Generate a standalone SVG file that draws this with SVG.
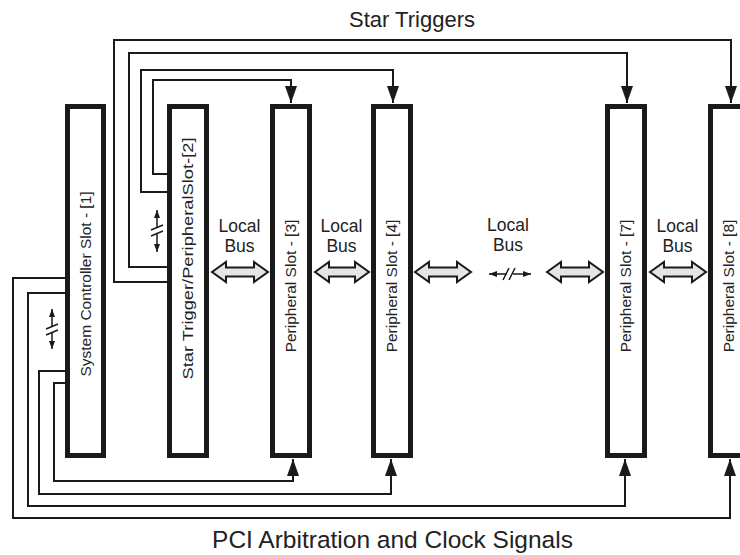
<svg xmlns="http://www.w3.org/2000/svg" width="740" height="555" viewBox="0 0 740 555">
<style>
.slot{fill:#fff;stroke:#1a1a1a;stroke-width:5}
.st{font-family:"Liberation Sans",Arial,sans-serif;font-size:15.5px;fill:#222;text-anchor:middle}
.lb{font-family:"Liberation Sans",Arial,sans-serif;font-size:17.5px;fill:#222;text-anchor:middle}
.ttl{font-family:"Liberation Sans",Arial,sans-serif;font-size:22px;fill:#222;text-anchor:middle}
.w{fill:none;stroke:#1a1a1a;stroke-width:2}
.ba{fill:#e4e6e4;stroke:#1a1a1a;stroke-width:2;stroke-linejoin:miter}
.bk{fill:none;stroke:#1a1a1a;stroke-width:1.5}
</style>
<defs>
<marker id="arr" viewBox="0 0 17 12" refX="17" refY="6" markerWidth="17" markerHeight="12" markerUnits="userSpaceOnUse" orient="auto">
<path d="M0,0 L17,6 L0,12 Z" fill="#1a1a1a"/>
</marker>
<marker id="sa" viewBox="0 0 8 6" refX="8" refY="3" markerWidth="8" markerHeight="6" markerUnits="userSpaceOnUse" orient="auto">
<path d="M0,0 L8,3 L0,6 Z" fill="#1a1a1a"/>
</marker>
</defs>
<rect width="740" height="555" fill="#fff"/>

<text class="ttl" x="412" y="27">Star Triggers</text>
<text class="ttl" x="392.5" y="548" style="font-size:24.5px">PCI Arbitration and Clock Signals</text>

<g id="connectors">
<path class="w" d="M167,174 H153 V80 H291 V103" marker-end="url(#arr)"/>
<path class="w" d="M167,192 H141 V70 H393 V103" marker-end="url(#arr)"/>
<path class="w" d="M167,267 H129 V53 H627 V103" marker-end="url(#arr)"/>
<path class="w" d="M167,282 H114 V40 H731 V103" marker-end="url(#arr)"/>
<path class="w" d="M65,278 H13 V518 H730 V459" marker-end="url(#arr)"/>
<path class="w" d="M65,293 H28 V506 H625 V459" marker-end="url(#arr)"/>
<path class="w" d="M65,371 H39 V494 H391 V459" marker-end="url(#arr)"/>
<path class="w" d="M65,383 H54 V481 H293 V459" marker-end="url(#arr)"/>
</g>

<g id="breaks">
<path class="bk" d="M157,228 V210" marker-end="url(#sa)"/>
<path class="bk" d="M157,234 V252" marker-end="url(#sa)"/>
<path class="bk" d="M151,230 L163,225 M151,236 L163,231"/>
<path class="bk" d="M52,327 V309" marker-end="url(#sa)"/>
<path class="bk" d="M52,333 V349" marker-end="url(#sa)"/>
<path class="bk" d="M46,329 L58,324 M46,335 L58,330"/>
<path class="bk" d="M507,274 H489" marker-end="url(#sa)"/>
<path class="bk" d="M513,274 H531" marker-end="url(#sa)"/>
<path class="bk" d="M503,280 L509,268 M509,280 L515,268"/>
</g>

<g id="localbus">
<path class="ba" d="M212,272 L226,262 L226,267.5 L254,267.5 L254,262 L268,272 L254,282 L254,276.5 L226,276.5 L226,282 Z"/>
<path class="ba" d="M315,272 L329,262 L329,267.5 L355,267.5 L355,262 L369,272 L355,282 L355,276.5 L329,276.5 L329,282 Z"/>
<path class="ba" d="M415,272 L429,262 L429,267.5 L457,267.5 L457,262 L471,272 L457,282 L457,276.5 L429,276.5 L429,282 Z"/>
<path class="ba" d="M547,272 L561,262 L561,267.5 L589,267.5 L589,262 L603,272 L589,282 L589,276.5 L561,276.5 L561,282 Z"/>
<path class="ba" d="M650,272 L664,262 L664,267.5 L692,267.5 L692,262 L706,272 L692,282 L692,276.5 L664,276.5 L664,282 Z"/>
<text class="lb" x="239.5" y="232">Local</text><text class="lb" x="239.5" y="252">Bus</text>
<text class="lb" x="341.5" y="232">Local</text><text class="lb" x="341.5" y="252">Bus</text>
<text class="lb" x="508" y="231">Local</text><text class="lb" x="508" y="251">Bus</text>
<text class="lb" x="677.5" y="232">Local</text><text class="lb" x="677.5" y="252">Bus</text>
</g>

<g id="slot1"><rect class="slot" x="67.5" y="106.5" width="36" height="349"/>
<text class="st" transform="translate(85.5,284) rotate(-90)" y="5">System Controller Slot - [1]</text></g>
<g id="slot2"><rect class="slot" x="169.5" y="106.5" width="37" height="349"/>
<text class="st" transform="translate(188,258.5) rotate(-90)" y="5" textLength="242" lengthAdjust="spacingAndGlyphs">Star Trigger/PeripheralSlot-[2]</text></g>
<g id="slot3"><rect class="slot" x="272.5" y="106.5" width="37" height="349"/>
<text class="st" transform="translate(291,286) rotate(-90)" y="5">Peripheral Slot - [3]</text></g>
<g id="slot4"><rect class="slot" x="373.5" y="106.5" width="37" height="349"/>
<text class="st" transform="translate(392,286) rotate(-90)" y="5">Peripheral Slot - [4]</text></g>
<g id="slot7"><rect class="slot" x="607.5" y="106.5" width="37" height="349"/>
<text class="st" transform="translate(626,286) rotate(-90)" y="5">Peripheral Slot - [7]</text></g>
<g id="slot8"><rect class="slot" x="710.5" y="106.5" width="37" height="349"/>
<text class="st" transform="translate(729,286) rotate(-90)" y="5">Peripheral Slot - [8]</text></g>
</svg>
